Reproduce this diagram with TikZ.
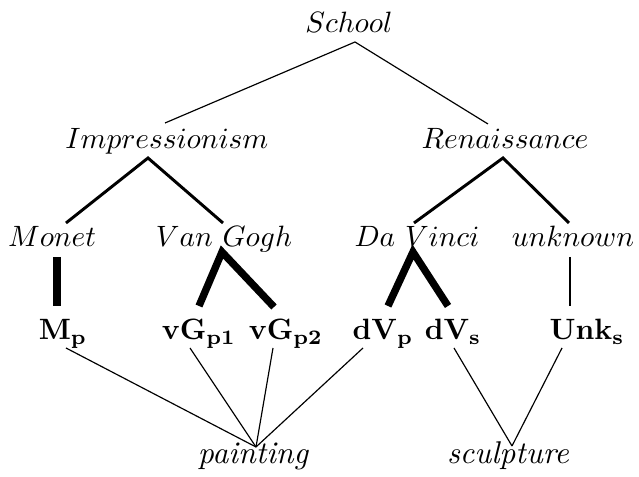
\documentclass[tikz,border=0pt]{standalone}
\begin{document}
\begin{tikzpicture}[x=0.34pt,y=-0.34pt,
  lbl/.style={inner sep=0pt, anchor=base},
  leaflbl/.style={inner sep=0pt, anchor=base, font=\fontsize{10.7}{12}\selectfont\itshape},
  thinedge/.style={line width=0.4pt},
  midedge/.style={line width=1pt},
  heavyedge/.style={line width=2.5pt}]
\useasboundingbox (0,0) rectangle (639,477);
% labels
\node[lbl] (school) at (349,33) {$School$};
\node[lbl] (imp) at (167,149) {$Impressionism$};
\node[lbl] (ren) at (505,149) {$Renaissance$};
\node[lbl] (monet) at (52,247) {$Monet$};
\node[lbl] (vangogh) at (224,247) {$Van\ Gogh$};
\node[lbl] (davinci) at (417,247) {$Da\ Vinci$};
\node[lbl] (unknown) at (573,247) {$unknown$};
\node[lbl] (mp) at (63,340) {$\mathbf{M_p}$};
\node[lbl] (vgp1) at (199,340) {$\mathbf{vG_{p1}}$};
\node[lbl] (vgp2) at (286,340) {$\mathbf{vG_{p2}}$};
\node[lbl] (dvp) at (383,340) {$\mathbf{dV_p}$};
\node[lbl] (dvs) at (453,340) {$\mathbf{dV_s}$};
\node[lbl] (unks) at (587,340) {$\mathbf{Unk_s}$};
\node[leaflbl] (painting) at (253,464) {painting};
\node[leaflbl] (sculpture) at (508,464) {sculpture};
% attachment points
\coordinate (school-s) at (355,42);
\coordinate (imp-n) at (165,123);
\coordinate (ren-n) at (488,124);
\coordinate (imp-s) at (148,158);
\coordinate (ren-s) at (503,158);
\coordinate (monet-n) at (66,223);
\coordinate (vangogh-n) at (223,223);
\coordinate (davinci-n) at (414,223);
\coordinate (unknown-n) at (569,223);
\coordinate (monet-s) at (57,257);
\coordinate (vangogh-s) at (222,252);
\coordinate (davinci-s) at (413,252);
\coordinate (unknown-s) at (570,257);
\coordinate (mp-n) at (57,306);
\coordinate (vgp1-n) at (199,306);
\coordinate (vgp2-n) at (274,307);
\coordinate (dvp-n) at (388,306);
\coordinate (dvs-n) at (448,306);
\coordinate (unks-n) at (570,306);
\coordinate (mp-s) at (66,348);
\coordinate (vgp1-s) at (190,348);
\coordinate (vgp2-s) at (273,348);
\coordinate (dvp-s) at (363,348);
\coordinate (dvs-s) at (454,348);
\coordinate (unks-s) at (562,348);
\coordinate (painting-n) at (256,447);
\coordinate (sculpture-n) at (512,446);
% edges
\draw[thinedge] (imp-n) -- (school-s) -- (ren-n);
\draw[midedge] (monet-n) -- (imp-s) -- (vangogh-n);
\draw[midedge] (davinci-n) -- (ren-s) -- (unknown-n);
\draw[heavyedge] (monet-s) -- (mp-n);
\draw[heavyedge] (vgp1-n) -- (vangogh-s) -- (vgp2-n);
\draw[heavyedge] (dvp-n) -- (davinci-s) -- (dvs-n);
\draw[thinedge] (unknown-s) -- (unks-n);
\draw[thinedge] (mp-s) -- (painting-n);
\draw[thinedge] (vgp1-s) -- (painting-n);
\draw[thinedge] (vgp2-s) -- (painting-n);
\draw[thinedge] (dvp-s) -- (painting-n);
\draw[thinedge] (dvs-s) -- (sculpture-n);
\draw[thinedge] (unks-s) -- (sculpture-n);
\end{tikzpicture}
\end{document}
